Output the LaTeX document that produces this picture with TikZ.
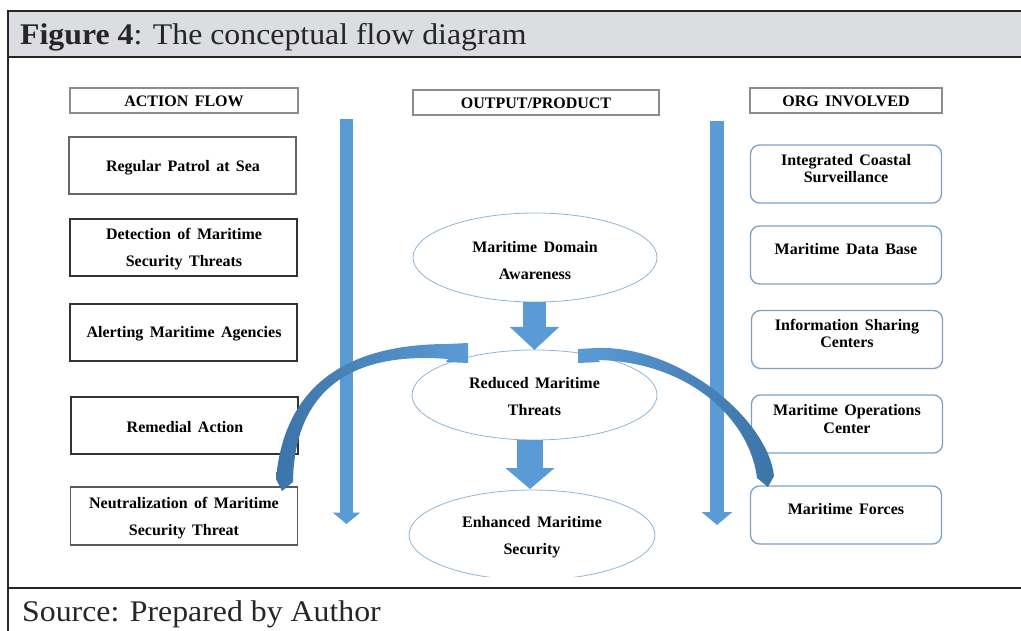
\documentclass[tikz,border=0pt]{standalone}
\usepackage{fontspec}
\setmainfont{Liberation Serif}
\newfontfamily\boxfont[WordSpace=1.6]{Liberation Serif}
\newfontfamily\titlefont[FakeStretch=1.06]{Liberation Serif}
\usetikzlibrary{arrows.meta,shapes.geometric}
\definecolor{hdrgray}{HTML}{DCDDE0}
\definecolor{arrblue}{HTML}{5B9BD5}
\definecolor{arrdark}{HTML}{3C74A8}
\definecolor{orgline}{HTML}{7BA0C4}
\definecolor{ellline}{HTML}{8FB4D6}
\begin{document}
\begin{tikzpicture}[x=1pt,y=-1pt,
  frameline/.style={line width=1.6pt, draw=black!85},
  hdrbox/.style={draw=black!45, line width=1.2pt, minimum height=25pt, inner sep=0pt},
  actbox/.style={draw=black!80, line width=1.3pt, minimum width=227pt, minimum height=57pt, inner sep=0pt},
  orgbox/.style={draw=orgline, line width=1.3pt, rounded corners=9pt, minimum width=191pt, minimum height=58pt, inner sep=0pt},
  ellbox/.style={ellipse, draw=ellline, line width=0.8pt, inner sep=0pt},
  hdrtxt/.style={font=\boxfont\fontsize{16}{18}\selectfont\bfseries, inner sep=0pt},
  boxtxt/.style={font=\boxfont\fontsize{16}{27}\selectfont\bfseries, align=center, inner sep=0pt},
  orgtxt/.style={font=\boxfont\fontsize{16}{17.5}\selectfont\bfseries, align=center, inner sep=0pt},
  bigtxt/.style={anchor=base west, inner sep=0pt, font=\titlefont\fontsize{30}{32}\selectfont, text=black!85},
  blockarr/.style={draw=arrblue},
]
\useasboundingbox (0,0) rectangle (1021,631);
% frame
\fill[hdrgray] (8,11) rectangle (1021,57);
\draw[frameline] (1021,11) -- (8,11) -- (8,631);
\draw[frameline] (8,57) -- (1021,57);
\draw[frameline] (8,588) -- (1021,588);
\node[bigtxt] (title) at (20,45) {\textbf{Figure 4}: The conceptual flow diagram};
\node[bigtxt] (source) at (22,621) {Source: Prepared by Author};

% column headers
\node[hdrbox, minimum width=228pt] (hAct) at (184,100.5) {};
\node[hdrtxt] (hActT) at (184,101) {ACTION FLOW};
\node[hdrbox, minimum width=246pt] (hOut) at (536,102.5) {};
\node[hdrtxt] (hOutT) at (536,103) {OUTPUT/PRODUCT};
\node[hdrbox, minimum width=192pt] (hOrg) at (846,100.5) {};
\node[hdrtxt] (hOrgT) at (846,101) {ORG INVOLVED};

% vertical flow arrows
\coordinate (lvTop) at (346.5,119);
\coordinate (lvEnd) at (346.5,524);
\coordinate (rvTop) at (717,121);
\coordinate (rvEnd) at (717,525);
\draw[blockarr, line width=13.5pt, -{Triangle[width=27pt,length=11.5pt]}] (lvTop) -- (lvEnd);
\draw[blockarr, line width=14pt, -{Triangle[width=30pt,length=13pt]}] (rvTop) -- (rvEnd);

% action flow boxes
\node[actbox, draw=black!60] (a1) at (182.5,165.5) {};
\node[boxtxt] (a1t) at (183,168) {Regular Patrol at Sea};
\node[actbox] (a2) at (183.5,247.5) {};
\node[boxtxt] (a2t) at (184,249) {Detection of Maritime\\Security Threats};
\node[actbox] (a3) at (183.5,332.5) {};
\node[boxtxt] (a3t) at (184,334) {Alerting Maritime Agencies};
\node[actbox] (a4) at (184.5,425.5) {};
\node[boxtxt] (a4t) at (185,427) {Remedial Action};
\node[actbox, draw=black!65, minimum height=58pt] (a5) at (184,516) {};
\node[boxtxt] (a5t) at (184,518) {Neutralization of Maritime\\Security Threat};

% org boxes
\node[orgbox] (o1) at (846,174) {};
\node[orgtxt] (o1t) at (846,168.5) {Integrated Coastal\\Surveillance};
\node[orgbox] (o2) at (846,255) {};
\node[orgtxt] (o2t) at (846,249) {Maritime Data Base};
\node[orgbox] (o3) at (847,339.5) {};
\node[orgtxt] (o3t) at (847,333.5) {Information Sharing\\Centers};
\node[orgbox] (o4) at (847,424) {};
\node[orgtxt] (o4t) at (847,419) {Maritime Operations\\Center};
\node[orgbox] (o5) at (846,515) {};
\node[orgtxt] (o5t) at (846,509) {Maritime Forces};

% output ellipses
\node[ellbox, minimum width=244pt, minimum height=89pt] (e1) at (535,257.5) {};
\node[boxtxt] (e1t) at (535,261) {Maritime Domain\\Awareness};
\node[ellbox, minimum width=245pt, minimum height=90pt] (e2) at (534.5,395) {};
\node[boxtxt] (e2t) at (534.5,397) {Reduced Maritime\\Threats};
\begin{scope}
\clip (380,480) rectangle (690,576);
\node[ellbox, minimum width=246pt, minimum height=90pt] (e3) at (532,535) {};
\end{scope}
\node[boxtxt] (e3t) at (532,537) {Enhanced Maritime\\Security};

% block arrows between outputs
\coordinate (m1a) at (534.5,302);
\coordinate (m1b) at (534.5,350);
\coordinate (m2a) at (530,440);
\coordinate (m2b) at (530,489);
\draw[blockarr, line width=23pt, -{Triangle[width=48pt,length=23pt]}] (m1a) -- (m1b);
\draw[blockarr, line width=26pt, -{Triangle[width=48pt,length=21pt]}] (m2a) -- (m2b);

% curved feedback arrows
\shade[left color=arrdark, right color=arrblue]
  (293,482) -- (282,491) -- (276,479)
  .. controls (283,400) and (330,344) .. (448,344)
  -- (468,343) -- (468,363) -- (446,362) -- (448,359)
  .. controls (335,350) and (294,405) .. (293,482) -- cycle;
\shade[left color=arrblue, right color=arrdark]
  (757,478) -- (768,487) -- (774,476)
  .. controls (768,420) and (680,345) .. (596,348)
  -- (578,349) -- (578,363) -- (600,362) -- (598,360)
  .. controls (690,362) and (750,420) .. (757,478) -- cycle;
\end{tikzpicture}
\end{document}
